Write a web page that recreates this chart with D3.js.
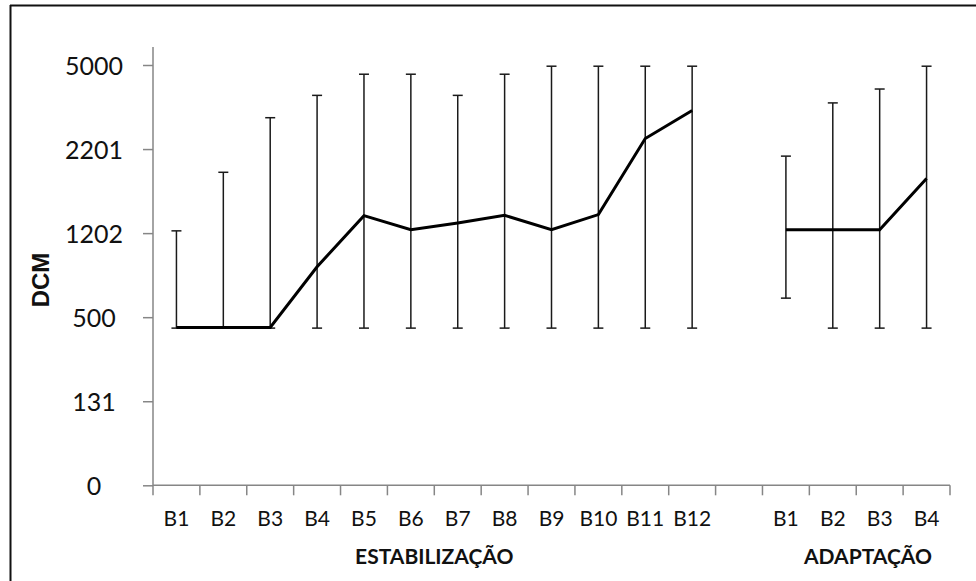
<!DOCTYPE html>
<html>
<head>
<meta charset="utf-8">
<script src="https://cdn.jsdelivr.net/npm/d3@7"></script>
<style>
  html, body { margin: 0; padding: 0; background: #fff; }
  svg { display: block; }
</style>
</head>
<body>
<svg id="chart" width="976" height="581"></svg>
<script>
// ---- data ----
const categories = ["B1","B2","B3","B4","B5","B6","B7","B8","B9","B10","B11","B12","",
                    "B1","B2","B3","B4"];
const meanValues  = [455, 455, 455, 921, 1410, 1242, 1322, 1413, 1242, 1422, 2553, 3485, null,
                     1242, 1242, 1242, 1850];
const upperValues = [1229, 1925, 3245, 3989, 4693, 4693, 3989, 4693, 4960, 4960, 4960, 4960, null,
                     2117, 3738, 4200, 4960];
const lowerValues = [452, 452, 452, 452, 452, 452, 452, 452, 452, 452, 452, 452, null,
                     659, 452, 452, 452];
const yTickValues = [0, 131, 500, 1202, 2201, 5000];
const groupLabels = ["ESTABILIZAÇÃO", "ADAPTAÇÃO"];
const yTitle = "DCM";

// ---- layout ----
const svg = d3.select("#chart");
const left = 153, right = 950, bottom = 485.3, step = 84.06, axisTop = 47;

const x = d3.scaleBand().domain(d3.range(categories.length)).range([left, right]);
const y = d3.scaleLinear()
  .domain(yTickValues)
  .range(yTickValues.map((d, i) => bottom - i * step));

// frame
svg.append("line").attr("x1", 10).attr("x2", 976).attr("y1", 5.5).attr("y2", 5.5)
  .attr("stroke", "#111").attr("stroke-width", 2);
svg.append("line").attr("x1", 10.5).attr("x2", 10.5).attr("y1", 5).attr("y2", 581)
  .attr("stroke", "#111").attr("stroke-width", 2);

const axisColor = "#868686";

// y axis
const yAxis = svg.append("g").attr("transform", `translate(${left},0)`)
  .call(d3.axisLeft(y).tickValues(yTickValues).tickSize(10).tickSizeOuter(0).tickFormat(d3.format("d")));
yAxis.select(".domain").remove();
yAxis.append("line").attr("x1", 0).attr("x2", 0).attr("y1", axisTop).attr("y2", bottom)
  .attr("stroke", axisColor).attr("stroke-width", 1.5);
yAxis.selectAll(".tick line").attr("stroke", axisColor).attr("stroke-width", 1.5);
yAxis.selectAll(".tick text")
  .attr("x", -59).attr("dy", "0.36em")
  .attr("text-anchor", "middle")
  .style("font-family", "Lato, 'Open Sans', sans-serif")
  .style("font-size", "25px")
  .attr("fill", "#111");

// x axis
const xAxis = svg.append("g").attr("transform", `translate(0,${bottom})`)
  .call(d3.axisBottom(x).tickSize(0).tickFormat(i => categories[i]));
xAxis.select(".domain").remove();
xAxis.append("line").attr("x1", left).attr("x2", right).attr("y1", 0).attr("y2", 0)
  .attr("stroke", axisColor).attr("stroke-width", 1.5);
xAxis.selectAll(".bound").data(d3.range(categories.length + 1)).enter()
  .append("line").attr("class", "bound")
  .attr("x1", i => left + i * x.step()).attr("x2", i => left + i * x.step())
  .attr("y1", 0).attr("y2", 10)
  .attr("stroke", axisColor).attr("stroke-width", 1.5);
xAxis.selectAll(".tick text")
  .attr("y", 41).attr("dy", 0)
  .style("font-family", "Lato, 'Open Sans', sans-serif")
  .style("font-size", "21px")
  .attr("fill", "#111");

// group labels
const groupCenters = [
  (x(0) + x(11) + x.bandwidth()) / 2,
  x(15) + x.bandwidth() * 0.25
];
svg.selectAll(".grp").data(groupLabels).enter().append("text")
  .attr("class", "grp")
  .attr("x", (d, i) => groupCenters[i])
  .attr("y", 564)
  .attr("text-anchor", "middle")
  .style("font-family", "Lato, 'Open Sans', sans-serif")
  .style("font-weight", "700")
  .style("font-size", "21px")
  .attr("fill", "#111")
  .text(d => d);

// y title
svg.append("text")
  .attr("transform", "translate(49,280) rotate(-90)")
  .attr("text-anchor", "middle")
  .style("font-family", "'Liberation Sans', Arial, sans-serif")
  .style("font-weight", "700")
  .style("font-size", "24px")
  .attr("fill", "#111")
  .text(yTitle);

// error bars
const cx = i => x(i) + x.bandwidth() / 2;
const idx = d3.range(categories.length).filter(i => meanValues[i] !== null);
const eb = svg.append("g").attr("stroke", "#1a1a1a").attr("stroke-width", 1.5);
eb.selectAll(".v").data(idx).enter().append("line")
  .attr("x1", cx).attr("x2", cx)
  .attr("y1", i => y(upperValues[i])).attr("y2", i => y(lowerValues[i]));
eb.selectAll(".t").data(idx).enter().append("line")
  .attr("x1", i => cx(i) - 5).attr("x2", i => cx(i) + 5)
  .attr("y1", i => y(upperValues[i])).attr("y2", i => y(upperValues[i]));
eb.selectAll(".b").data(idx).enter().append("line")
  .attr("x1", i => cx(i) - 5).attr("x2", i => cx(i) + 5)
  .attr("y1", i => y(lowerValues[i])).attr("y2", i => y(lowerValues[i]));

// mean line
const line = d3.line()
  .defined(i => meanValues[i] !== null)
  .x(cx)
  .y(i => y(meanValues[i]));
svg.append("path")
  .datum(d3.range(categories.length))
  .attr("d", line)
  .attr("fill", "none")
  .attr("stroke", "#000")
  .attr("stroke-width", 3)
  .attr("stroke-linejoin", "miter");
</script>
</body>
</html>
